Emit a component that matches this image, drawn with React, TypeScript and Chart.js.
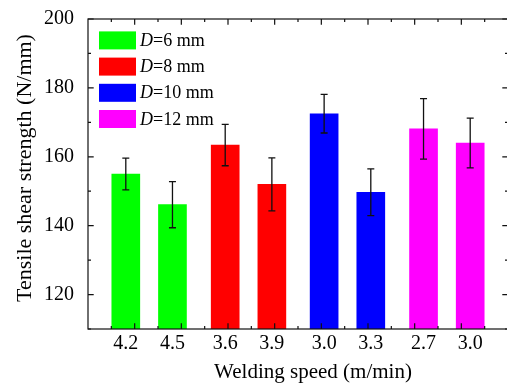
import React, { useEffect, useRef } from 'react';
import { Chart, registerables } from 'chart.js';

Chart.register(...registerables);

// ---- data ----
const speeds = ['4.2', '4.5', '3.6', '3.9', '3.0', '3.3', '2.7', '3.0'];
const barPositions = [0.81, 1.81, 2.94, 3.94, 5.06, 6.06, 7.19, 8.19];
const strength = [155.0, 146.1, 163.4, 152.0, 172.5, 149.7, 168.1, 164.0];
const errors = [4.6, 6.7, 6.0, 7.7, 5.6, 6.8, 8.8, 7.2];
const barGroup = [0, 0, 1, 1, 2, 2, 3, 3];
const diameters = ['6', '8', '10', '12'];
const groupColors = ['#00ff00', '#ff0000', '#0000ff', '#ff00ff'];
const yTicks = [120, 140, 160, 180, 200];
const yMinorTicks = [110, 130, 150, 170, 190];
const xMajorTicks = [1, 2, 3, 4, 5, 6, 7, 8];
const xMinorTicks = [0.5, 1.5, 2.5, 3.5, 4.5, 5.5, 6.5, 7.5, 8.5];

const FONT = "'Liberation Serif', 'Times New Roman', serif";
const TARGET_TOP = 19;

export default function App() {
  const ref = useRef<HTMLCanvasElement>(null);

  useEffect(() => {
    const canvas = ref.current;
    if (!canvas) return;
    let chart: any = null;
    let cancelled = false;

    const framePlugin = {
      id: 'frame',
      afterDatasetsDraw(c: any) {
        const ctx = c.ctx;
        const ys = c.scales.y;
        const meta = c.getDatasetMeta(0);
        ctx.save();
        ctx.strokeStyle = '#111';
        ctx.lineWidth = 1.3;
        meta.data.forEach((bar: any, i: number) => {
          const x = bar.x;
          const yTop = ys.getPixelForValue(strength[i] + errors[i]);
          const yBot = ys.getPixelForValue(strength[i] - errors[i]);
          ctx.beginPath();
          ctx.moveTo(x, yTop);
          ctx.lineTo(x, yBot);
          ctx.moveTo(x - 3.5, yTop);
          ctx.lineTo(x + 3.5, yTop);
          ctx.moveTo(x - 3.5, yBot);
          ctx.lineTo(x + 3.5, yBot);
          ctx.stroke();
        });
        ctx.restore();
      },
      afterDraw(c: any) {
        const ctx = c.ctx;
        const ca = c.chartArea;
        const xs = c.scales.x;
        const ys = c.scales.y;
        ctx.save();
        ctx.strokeStyle = '#111';
        ctx.lineWidth = 1.2;
        ctx.strokeRect(ca.left, ca.top, ca.right - ca.left, ca.bottom - ca.top);
        const major = 5.7;
        const minor = 3;
        ctx.beginPath();
        const xt = (v: number, len: number) => {
          const px = xs.getPixelForValue(v);
          ctx.moveTo(px, ca.bottom);
          ctx.lineTo(px, ca.bottom - len);
          ctx.moveTo(px, ca.top);
          ctx.lineTo(px, ca.top + len);
        };
        const yt = (v: number, len: number) => {
          const py = ys.getPixelForValue(v);
          ctx.moveTo(ca.left, py);
          ctx.lineTo(ca.left + len, py);
          ctx.moveTo(ca.right, py);
          ctx.lineTo(ca.right - len, py);
        };
        xMajorTicks.forEach((v) => xt(v, major));
        xMinorTicks.forEach((v) => xt(v, minor));
        yTicks.forEach((v) => yt(v, major));
        yMinorTicks.forEach((v) => yt(v, minor));
        ctx.stroke();

        // axis titles
        ctx.fillStyle = '#000';
        ctx.font = `21px ${FONT}`;
        ctx.textAlign = 'center';
        ctx.textBaseline = 'alphabetic';
        ctx.fillText('Welding speed (m/min)', (ca.left + ca.right) / 2 + 15, ca.bottom + 49);

        ctx.save();
        ctx.translate(31, (ca.top + ca.bottom) / 2 - 6);
        ctx.rotate(-Math.PI / 2);
        ctx.font = `22px ${FONT}`;
        ctx.fillText('Tensile shear strength (N/mm)', 0, 0);
        ctx.restore();

        // legend
        const bx = ca.left + 11;
        diameters.forEach((d, i) => {
          const by = ca.top + 12.4 + i * 26.2;
          ctx.fillStyle = groupColors[i];
          ctx.fillRect(bx, by, 37, 18);
          ctx.fillStyle = '#000';
          ctx.textAlign = 'left';
          ctx.font = `italic 18px ${FONT}`;
          const tx = bx + 41;
          const ty = by + 14.5;
          ctx.fillText('D', tx, ty);
          const w = ctx.measureText('D').width;
          ctx.font = `18px ${FONT}`;
          ctx.fillText(`=${d} mm`, tx + w, ty);
        });
        ctx.restore();
      },
    };

    const build = () => {
      if (cancelled) return;
      const options: any = {
        responsive: false,
        animation: false,
        layout: { padding: { top: TARGET_TOP, right: 2, left: 0, bottom: 0 } },
        plugins: { legend: { display: false }, tooltip: { enabled: false } },
        scales: {
          x: {
            type: 'linear',
            offset: false,
            min: 0,
            max: 9,
            grid: { display: false, drawTicks: false, offset: false },
            border: { display: false },
            afterBuildTicks: (s: any) => {
              s.ticks = barPositions.map((v) => ({ value: v }));
            },
            afterFit: (s: any) => {
              s.height = 54;
              s.paddingLeft = 0;
              s.paddingRight = 0;
            },
            ticks: {
              padding: 3,
              autoSkip: false,
              maxRotation: 0,
              color: '#000',
              font: { family: FONT, size: 20 },
              callback: (_v: any, i: number) => speeds[i],
            },
          },
          y: {
            type: 'linear',
            min: 110,
            max: 200,
            grid: { display: false, drawTicks: false },
            border: { display: false },
            afterBuildTicks: (s: any) => {
              s.ticks = yTicks.map((v) => ({ value: v }));
            },
            afterFit: (s: any) => {
              s.width = 88;
              s.paddingTop = 0;
              s.paddingBottom = 0;
            },
            ticks: {
              padding: 14,
              color: '#000',
              font: { family: FONT, size: 20 },
            },
          },
        },
      };
      chart = new Chart(canvas, {
        type: 'bar',
        data: {
          datasets: [
            {
              data: barPositions.map((x, i) => ({ x, y: strength[i] })),
              backgroundColor: barGroup.map((g) => groupColors[g]),
              borderWidth: 0,
              barThickness: 28,
            } as any,
          ],
        },
        options,
        plugins: [framePlugin],
      });
      // keep the plot frame where the reference has it
      for (let k = 0; k < 3; k++) {
        const d = chart.chartArea.top - TARGET_TOP;
        if (Math.abs(d) < 0.3) break;
        chart.config.options.layout.padding.top -= d;
        chart.update();
      }
    };

    const fontsReady = (document as any).fonts
      ? Promise.all([
          (document as any).fonts.load(`20px 'Liberation Serif'`),
          (document as any).fonts.load(`italic 18px 'Liberation Serif'`),
        ]).catch(() => null)
      : Promise.resolve(null);
    fontsReady.then(build);

    return () => {
      cancelled = true;
      if (chart) chart.destroy();
    };
  }, []);

  return (
    <div
      style={{
        position: 'fixed',
        left: 0,
        top: 0,
        width: 507,
        height: 383,
        overflow: 'hidden',
        background: '#fff',
      }}
    >
      <canvas ref={ref} width={510} height={383} style={{ display: 'block' }} />
    </div>
  );
}
